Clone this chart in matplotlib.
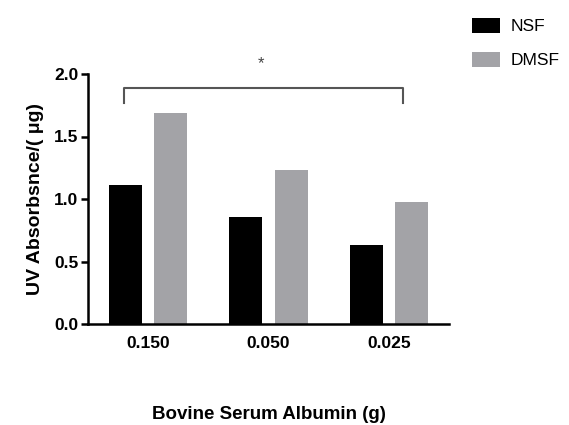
import numpy as np
import matplotlib.pyplot as plt

plt.rcParams['font.family'] = ['Liberation Sans', 'DejaVu Sans']

categories = ['0.150', '0.050', '0.025']
nsf = [1.11, 0.86, 0.63]
dmsf = [1.69, 1.23, 0.98]
series_names = ['NSF', 'DMSF']

fig = plt.figure(figsize=(5.69, 4.25), dpi=100)
ax = fig.add_axes([88 / 569, 1 - 324 / 425, (449 - 88) / 569, (324 - 74) / 425])

x = np.arange(len(categories))
width = 0.275
ax.bar(x - 0.1875, nsf, width, color='black', label=series_names[0])
ax.bar(x + 0.1875, dmsf, width, color='#a3a3a7', label=series_names[1])

ax.set_xlim(-0.5, 2.5)
ax.set_ylim(0, 2.0)
ax.set_yticks([0.0, 0.5, 1.0, 1.5, 2.0])
ax.set_yticklabels(['0.0', '0.5', '1.0', '1.5', '2.0'])
ax.set_xticks(x)
ax.set_xticklabels(categories)

for s in ['top', 'right']:
    ax.spines[s].set_visible(False)
for s in ['left', 'bottom']:
    ax.spines[s].set_linewidth(1.8)
ax.tick_params(axis='y', width=1.8, length=5, labelsize=12.5, pad=2)
ax.tick_params(axis='x', length=0, labelsize=12.5, pad=9)
for lab in ax.get_xticklabels() + ax.get_yticklabels():
    lab.set_fontweight('bold')

ax.set_ylabel('UV Absorbsnce/( μg)', fontsize=14, fontweight='bold', labelpad=7)
ax.set_xlabel('Bovine Serum Albumin (g)', fontsize=13.5, fontweight='bold', labelpad=39)

# significance bracket
bx0, bx1 = -0.2, 2.12
ax.plot([bx0, bx0, bx1, bx1], [1.77, 1.89, 1.89, 1.77], color='#555555', lw=1.5,
        clip_on=False)
ax.text((bx0 + bx1) / 2 - 0.02, 2.02, '*', ha='center', va='bottom', fontsize=12,
        color='#444444', clip_on=False)

fig.legend(loc='upper left', bbox_to_anchor=(456 / 569, 1 - 2 / 425), frameon=False,
           fontsize=12.5, handlelength=1.65, handleheight=1.0, handletextpad=0.6,
           labelspacing=1.0)

fig.savefig('out.png', dpi=100)
